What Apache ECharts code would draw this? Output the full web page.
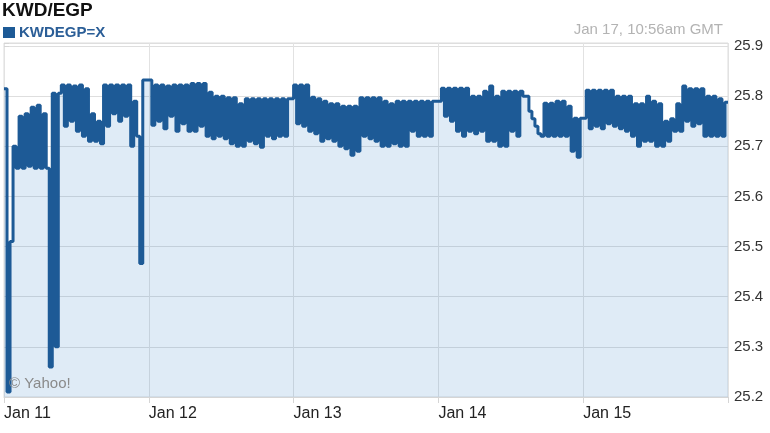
<!DOCTYPE html>
<html>
<head>
<meta charset="utf-8">
<script src="https://cdn.jsdelivr.net/npm/echarts@6/dist/echarts.min.js"></script>
<style>
  html, body { margin: 0; padding: 0; background: #fff; }
  #main { width: 770px; height: 433px; }
</style>
</head>
<body>
<div id="main"></div>
<script>
// quotes every 30 minutes from Jan 11 00:00 GMT
var stepHours = 0.5;
var tickLabels = ['Jan 11', 'Jan 12', 'Jan 13', 'Jan 14', 'Jan 15'];
var rates = [
  25.815, 25.21, 25.51, 25.70, 25.656, 25.76, 25.656, 25.765, 25.66, 25.778,
  25.656, 25.782, 25.656, 25.765, 25.656, 25.26, 25.806, 25.30, 25.806, 25.822,
  25.74, 25.822, 25.75, 25.82, 25.73, 25.822, 25.72, 25.815, 25.71, 25.765,
  25.71, 25.75, 25.705, 25.822, 25.74, 25.822, 25.765, 25.822, 25.75, 25.822,
  25.76, 25.822, 25.70, 25.79, 25.72, 25.466, 25.832, 25.832, 25.832, 25.742,
  25.822, 25.75, 25.822, 25.735, 25.82, 25.76, 25.822, 25.73, 25.822, 25.745,
  25.822, 25.73, 25.825, 25.73, 25.825, 25.74, 25.825, 25.72, 25.808, 25.715,
  25.80, 25.72, 25.80, 25.715, 25.797, 25.705, 25.797, 25.70, 25.785, 25.70,
  25.795, 25.71, 25.795, 25.705, 25.795, 25.698, 25.795, 25.72, 25.795, 25.715,
  25.795, 25.72, 25.795, 25.72, 25.795, 25.795, 25.822, 25.745, 25.822, 25.74,
  25.822, 25.73, 25.798, 25.725, 25.795, 25.71, 25.79, 25.715, 25.785, 25.71,
  25.785, 25.70, 25.78, 25.695, 25.78, 25.682, 25.78, 25.69, 25.797, 25.72,
  25.797, 25.715, 25.797, 25.71, 25.797, 25.70, 25.79, 25.70, 25.785, 25.705,
  25.79, 25.70, 25.79, 25.70, 25.79, 25.73, 25.79, 25.72, 25.79, 25.72,
  25.79, 25.72, 25.79, 25.79, 25.79, 25.816, 25.76, 25.816, 25.75, 25.816,
  25.73, 25.816, 25.72, 25.816, 25.73, 25.80, 25.725, 25.80, 25.73, 25.81,
  25.71, 25.82, 25.71, 25.80, 25.70, 25.81, 25.70, 25.81, 25.73, 25.81,
  25.72, 25.81, 25.80, 25.80, 25.77, 25.755, 25.74, 25.725, 25.72, 25.786,
  25.72, 25.786, 25.72, 25.79, 25.72, 25.79, 25.72, 25.78, 25.69, 25.756,
  25.678, 25.756, 25.756, 25.812, 25.735, 25.812, 25.74, 25.812, 25.735, 25.812,
  25.745, 25.812, 25.74, 25.80, 25.735, 25.80, 25.73, 25.80, 25.72, 25.785,
  25.70, 25.785, 25.71, 25.80, 25.71, 25.79, 25.70, 25.785, 25.70, 25.75,
  25.71, 25.755, 25.73, 25.785, 25.73, 25.82, 25.75, 25.815, 25.74, 25.815,
  25.745, 25.815, 25.72, 25.80, 25.72, 25.80, 25.72, 25.795, 25.72, 25.788,
  25.788
];

var points = rates.map(function (v, i) { return [i * stepHours, v]; });

var myChart = echarts.init(document.getElementById('main'));

var option = {
  animation: false,
  textStyle: { fontFamily: 'Liberation Sans, Arial, sans-serif' },
  title: [
    {
      text: 'KWD/EGP',
      left: 2, top: 1, padding: 0,
      textStyle: { fontSize: 19, fontWeight: 'bold', color: '#111' }
    },
    {
      text: 'Jan 17, 10:56am GMT',
      right: 47, top: 22, padding: 0,
      textStyle: { fontSize: 15, fontWeight: 'normal', color: '#b3b3b3' }
    },
    {
      text: '\u00a9 Yahoo!',
      left: 9, top: 376, padding: 0,
      textStyle: { fontSize: 15, fontWeight: 'normal', color: '#8a8a8a' }
    }
  ],
  legend: {
    left: 3, top: 25, padding: 0,
    icon: 'rect', itemWidth: 12, itemHeight: 11, itemGap: 4,
    textStyle: { fontSize: 15, fontWeight: 'bold', color: '#2b5e97', padding: [0, 0, 0, -1] },
    data: ['KWDEGP=X']
  },
  grid: {
    left: 4, right: 42, top: 43, bottom: 36,
    show: true, borderColor: '#dcdcdc', borderWidth: 1
  },
  xAxis: {
    type: 'value',
    min: 0, max: 120, interval: 24,
    axisLine: { show: true, lineStyle: { color: '#d5d5d5' } },
    axisTick: { show: true, length: 6, lineStyle: { color: '#d5d5d5' } },
    splitLine: { show: true, lineStyle: { color: '#e2e2e2' } },
    axisLabel: {
      align: 'left', margin: 9, fontSize: 16, color: '#222',
      formatter: function (v) { return tickLabels[Math.round(v / 24)] || ''; }
    }
  },
  yAxis: {
    type: 'value', position: 'right',
    min: 25.2, max: 25.906, interval: 0.1,
    axisLine: { show: false },
    axisTick: { show: true, length: 5, lineStyle: { color: '#d5d5d5' } },
    splitLine: { show: true, lineStyle: { color: '#dedede' } },
    axisLabel: {
      margin: 6, fontSize: 15, color: '#333',
      formatter: function (v) {
        var r = Math.round(v * 10) / 10;
        return Math.abs(v - r) < 0.001 ? r.toFixed(1) : '';
      }
    }
  },
  series: [
    {
      name: 'KWDEGP=X',
      type: 'line',
      step: 'end',
      symbol: 'none',
      data: points,
      color: '#1d5a96',
      lineStyle: { width: 3, color: '#1d5a96' },
      areaStyle: { origin: 'start', color: 'rgba(45,125,195,0.22)' }
    }
  ]
};

myChart.setOption(option);
</script>
</body>
</html>
